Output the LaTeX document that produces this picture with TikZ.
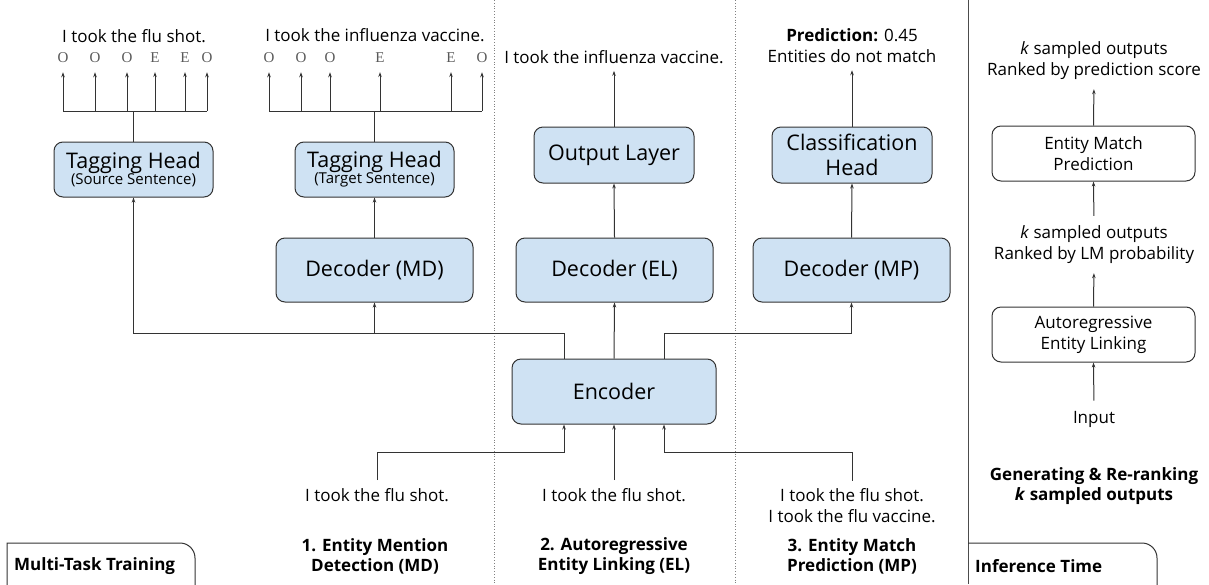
\documentclass[tikz,border=0pt]{standalone}
\usepackage{fontspec}
\setmainfont{Open Sans}
\newfontfamily\tagfont{Liberation Serif}
\usetikzlibrary{arrows.meta,calc}
\definecolor{boxblue}{HTML}{CFE2F3}
\definecolor{lncol}{HTML}{333333}
\begin{document}
\begin{tikzpicture}[x=1pt,y=-1pt,
  bluebox/.style={draw=lncol, line width=1pt, fill=boxblue, rounded corners=9pt, align=center, inner sep=0pt},
  whitebox/.style={draw=lncol, line width=1pt, fill=white, rounded corners=9pt, align=center, inner sep=0pt, font=\fontsize{17}{21}\selectfont},
  arr/.style={draw=lncol, line width=1pt, -{Stealth[length=5pt,width=3.5pt]}},
  plain/.style={draw=lncol, line width=1pt},
  txt/.style={font=\fontsize{17}{21}\selectfont, align=center, inner sep=0pt, text=black},
  btxt/.style={font=\fontsize{17}{20}\selectfont\bfseries, align=center, inner sep=0pt, text=black},
  tagn/.style={font=\tagfont\fontsize{15}{16}\selectfont, inner sep=0pt, text=black!65},
  declbl/.style={font=\fontsize{21.5}{24}\selectfont},
]
\useasboundingbox (0,0) rectangle (1209,584);

% separators
\draw[dotted, gray, line width=0.8pt] (494,0) -- (494,584);
\draw[dotted, gray, line width=0.8pt] (735,0) -- (735,584);
\draw[plain, draw=black!70] (968,0) -- (968,584);

% ---------- MD column ----------
\node[bluebox, minimum width=159pt, minimum height=55pt] (ths) at (133.5,169.5)
  {{\fontsize{21.5}{23}\selectfont Tagging Head}\\[-1pt]{\fontsize{15}{16}\selectfont (Source Sentence)}};
\node[bluebox, minimum width=159pt, minimum height=55pt] (tht) at (374.5,169.5)
  {{\fontsize{21.5}{23}\selectfont Tagging Head}\\[-1pt]{\fontsize{15}{16}\selectfont (Target Sentence)}};
\node[bluebox, declbl, minimum width=197pt, minimum height=64pt] (dmd) at (374.5,270) {Decoder (MD)};

\node[txt] (ssrc) at (134,36) {I took the flu shot.};
\node[txt] (stgt) at (375,35) {I took the influenza vaccine.};

% tags source
\node[tagn] (s1) at (63,58) {O};
\node[tagn] (s2) at (95,58) {O};
\node[tagn] (s3) at (127,58) {O};
\node[tagn] (s4) at (155,58) {E};
\node[tagn] (s5) at (185,58) {E};
\node[tagn] (s6) at (207,58) {O};
% tags target
\node[tagn] (t1) at (269,58) {O};
\node[tagn] (t2) at (301,58) {O};
\node[tagn] (t3) at (330,58) {O};
\node[tagn] (t4) at (380,58) {E};
\node[tagn] (t5) at (451,58) {E};
\node[tagn] (t6) at (482,58) {O};

\coordinate (bar) at (0,111);
\draw[plain] (ths.north) -- (ths.north |- bar);
\draw[plain] (s1 |- bar) -- (s6 |- bar);
\foreach \n in {s1,s2,s3,s4,s5,s6}
  \draw[arr, shorten >=9pt] (\n |- bar) -- (\n.south);
\draw[plain] (tht.north) -- (tht.north |- bar);
\draw[plain] (t1 |- bar) -- (t6 |- bar);
\foreach \n in {t1,t2,t3,t4,t5,t6}
  \draw[arr, shorten >=9pt] (\n |- bar) -- (\n.south);

\draw[arr] (dmd.north) -- (tht.south);

% ---------- EL column ----------
\node[bluebox, declbl, minimum width=160pt, minimum height=56pt] (ol) at (614,155) {Output Layer};
\node[bluebox, declbl, minimum width=197pt, minimum height=64pt] (del) at (614.5,270) {Decoder (EL)};
\node[txt] (sol) at (614,57) {I took the influenza vaccine.};
\draw[arr, shorten >=7pt] (ol.north) -- (sol.south);
\draw[arr] (del.north) -- (ol.south);

% ---------- MP column ----------
\node[bluebox, font=\fontsize{21.5}{25}\selectfont, minimum width=160pt, minimum height=56pt] (ch) at (852,155) {Classification\\Head};
\node[bluebox, declbl, minimum width=197pt, minimum height=64pt] (dmp) at (851.5,270) {Decoder (MP)};
\node[txt] (spr) at (852,46) {\textbf{Prediction:} 0.45\\Entities do not match};
\draw[arr, shorten >=7pt] (ch.north) -- (spr.south);
\draw[arr] (dmp.north) -- (ch.south);

% ---------- Encoder ----------
\node[bluebox, declbl, minimum width=204pt, minimum height=65pt] (enc) at (614,391.5) {Encoder};
\coordinate (hL) at (0,333);
\draw[arr] ([xshift=-50pt]enc.north) |- (ths.south |- hL) -- (ths.south);
\draw[arr] (dmd.south |- hL) -- (dmd.south);
\draw[arr] (enc.north) -- (del.south);
\draw[arr] ([xshift=50pt]enc.north) |- (dmp.south |- hL) -- (dmp.south);

% inputs
\node[txt] (imd) at (377,495) {I took the flu shot.};
\node[txt] (iel) at (614,495) {I took the flu shot.};
\node[txt] (imp) at (852,506) {I took the flu shot.\\I took the flu vaccine.};
\coordinate (hB) at (0,452);
\draw[arr, shorten <=8pt] (imd.north) -- (imd.north |- hB) -| ([xshift=-50pt]enc.south);
\draw[arr, shorten <=8pt] (iel.north) -- (enc.south);
\draw[arr, shorten <=8pt] (imp.north) -- (imp.north |- hB) -| ([xshift=50pt]enc.south);

% task labels
\node[btxt] (lmd) at (375,556) {1. Entity Mention\\Detection (MD)};
\node[btxt] (lel) at (614,556) {2. Autoregressive\\Entity Linking (EL)};
\node[btxt] (lmp) at (852,556) {3. Entity Match\\Prediction (MP)};

% ---------- Inference panel ----------
\node[txt] (kpred) at (1094,61) {\textit{k} sampled outputs\\Ranked by prediction score};
\node[whitebox, minimum width=203pt, minimum height=55pt] (emp) at (1093.5,153.5) {Entity Match\\Prediction};
\node[txt] (klm) at (1094,245) {\textit{k} sampled outputs\\Ranked by LM probability};
\node[whitebox, minimum width=203pt, minimum height=55pt] (ael) at (1093.5,334.5) {Autoregressive\\Entity Linking};
\node[txt] (inp) at (1094,419) {Input};
\node[btxt] (gen) at (1094,486) {Generating \& Re-ranking\\\textit{k} sampled outputs};
\draw[arr, shorten >=9pt] (emp.north) -- (kpred.south);
\draw[arr, shorten <=10pt] (klm.north) -- (emp.south);
\draw[arr, shorten >=9pt] (ael.north) -- (klm.south);
\draw[arr, shorten <=10pt] (inp.north) -- (ael.south);

% ---------- tabs ----------
\draw[plain, draw=black!80] (7,585) -- (7,543) -- (180,543) .. controls (188.3,543) and (195,549.7) .. (195,558) -- (195,585);
\node[btxt, anchor=west] (tmt) at (14,566) {Multi-Task Training};
\draw[plain, draw=black!80] (968,543) -- (1142,543) .. controls (1150.3,543) and (1157,549.7) .. (1157,558) -- (1157,585);
\node[btxt, anchor=west] (tit) at (975,566) {Inference Time};
\end{tikzpicture}
\end{document}
